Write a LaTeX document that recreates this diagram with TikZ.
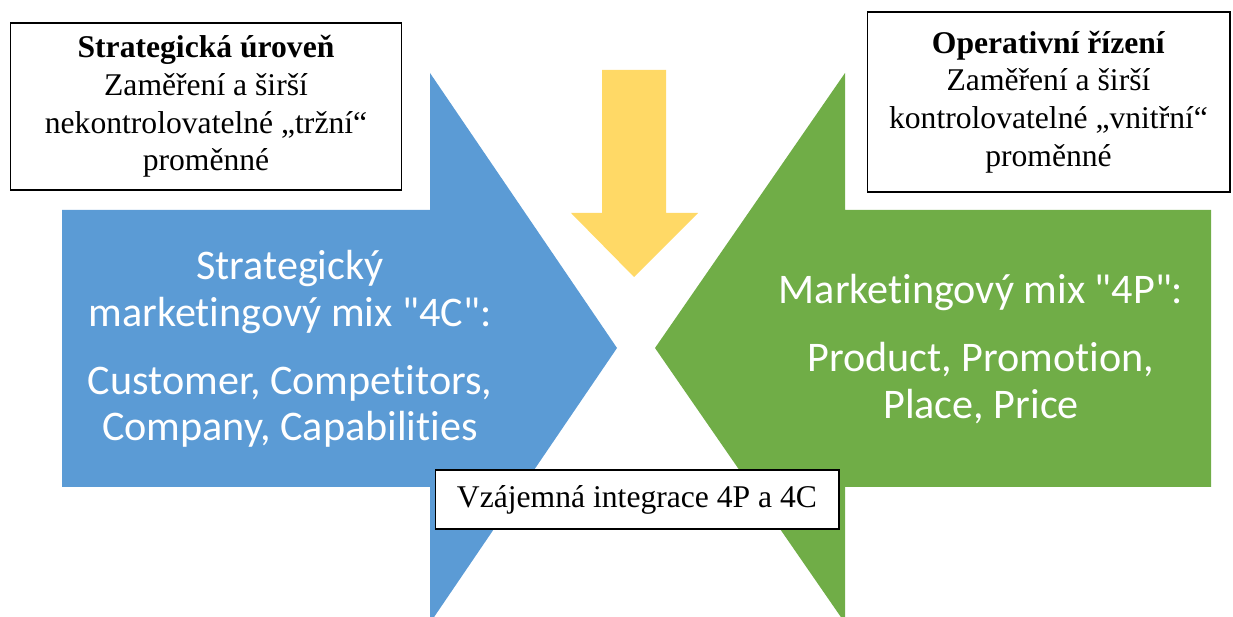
\documentclass[tikz,border=0pt]{standalone}
\usepackage{fontspec}
\setmainfont{Liberation Serif}
\newfontfamily\calibri[Ligatures={NoCommon}]{Carlito}
\usepackage{tikz}

\definecolor{mixblue}{HTML}{5B9BD5}
\definecolor{mixgreen}{HTML}{70AD47}
\definecolor{mixyellow}{HTML}{FFD966}

\begin{document}
\begin{tikzpicture}[x=0.02cm,y=-0.02cm]
      \tikzstyle{infobox}=[draw=black,fill=white,line width=0.6pt,align=center,inner sep=0pt,font=\fontsize{18}{21.5}\selectfont]
      \tikzstyle{mixtext}=[align=center,text=white,font=\calibri\fontsize{24}{26.5}\selectfont]
      \useasboundingbox (0,0) rectangle (1233,617);

      \fill [mixblue] (62,210) -- (430,210) -- (430,73) -- (617,348) -- (430,623)
      -- (430,487) -- (62,487) -- cycle;
      \fill [mixgreen] (1211,210) -- (845,210) -- (845,73) -- (655,348) -- (845,623)
      -- (845,487) -- (1211,487) -- cycle;
      \fill [mixyellow] (602,70) -- (666,70) -- (666,213) -- (698,213) -- (634,277)
      -- (571,213) -- (602,213) -- cycle;

      \node [mixtext] (C) at (290,349) {Strategický\\ marketingový mix "4C":\\[12pt]
        Customer, Competitors,\\ Company, Capabilities};
      \node [mixtext] (P) at (981,349) {Marketingový mix "4P":\\[12pt]
        Product, Promotion,\\ Place, Price};

      \node [infobox,minimum width=7.84cm,minimum height=3.34cm] (S) at (206,106.5)
        {\textbf{Strategická úroveň}\\ Zaměření a širší\\ nekontrolovatelné „tržní“\\ proměnné};
      \node [infobox,minimum width=7.26cm,minimum height=3.6cm] (O) at (1048.5,102)
        {\textbf{Operativní řízení}\\ Zaměření a širší\\ kontrolovatelné „vnitřní“\\ proměnné};
      \node [infobox,minimum width=8.08cm,minimum height=1.18cm] (I) at (637,499.5)
        {Vzájemná integrace 4P a 4C};
    \end{tikzpicture}
\end{document}
